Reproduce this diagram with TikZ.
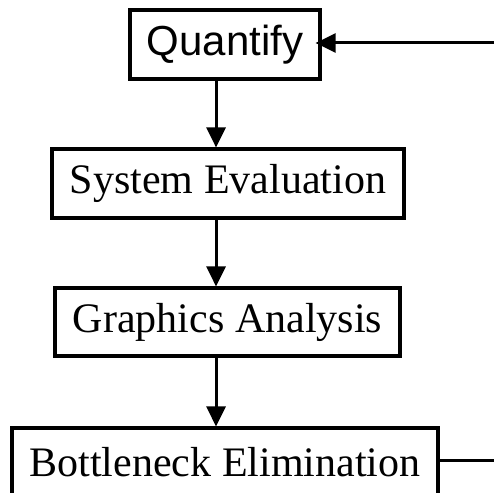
\documentclass[tikz,border=0pt]{standalone}
\usepackage{fontspec}
\setmainfont{Liberation Serif}
\newfontfamily\arialfont{Liberation Sans}
\usetikzlibrary{arrows.meta}
\begin{document}
\begin{tikzpicture}[x=1pt,y=-1pt,
  box/.style={draw,line width=3.2pt,inner sep=0pt,font=\fontsize{42}{46}\selectfont},
  flow/.style={line width=3pt,-{Triangle[length=20pt,width=19pt]}}]
\useasboundingbox (0,0) rectangle (494,492);
\clip (0,0) rectangle (494,492);
\node[box,minimum width=190pt,minimum height=69pt,font=\fontsize{42}{46}\selectfont\arialfont] (q) at (225,44.5) {Quantify};
\node[box,minimum width=352pt,minimum height=69pt] (s) at (228,183.5) {System Evaluation};
\node[box,minimum width=345pt,minimum height=68pt] (g) at (227.5,322) {Graphics Analysis};
\node[box,minimum width=426pt,minimum height=68pt] (b) at (225,462) {Bottleneck Elimination};
\coordinate (ax) at (216,0);
\coordinate (rt) at (530,0);
\draw[flow] (q.south -| ax) -- (s.north -| ax);
\draw[flow] (s.south -| ax) -- (g.north -| ax);
\draw[flow] (g.south -| ax) -- (b.north -| ax);
\draw[flow] (b.east |- 0,460) -- (rt |- 0,460) -- (rt |- 0,43) -- ([xshift=-6pt]q.east |- 0,43);
\end{tikzpicture}
\end{document}
